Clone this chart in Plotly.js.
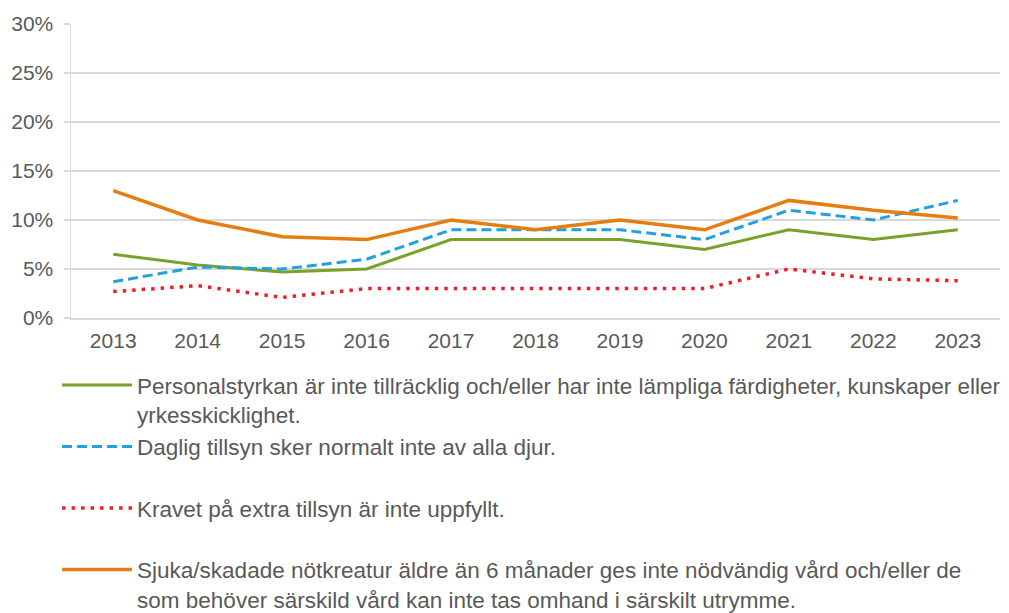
<!DOCTYPE html>
<html>
<head>
<meta charset="utf-8">
<script src="https://cdn.plot.ly/plotly-3.0.1.min.js"></script>
<style>html,body{margin:0;padding:0;background:#fff;}#chart{width:1009px;height:613px;}</style>
</head>
<body>
<div id="chart"></div>
<script>
var years = ["2013","2014","2015","2016","2017","2018","2019","2020","2021","2022","2023"];
var personalstyrkan = [6.5, 5.4, 4.7, 5.0, 8, 8, 8, 7, 9, 8, 9];
var dagligTillsyn = [3.7, 5.2, 5.0, 6.0, 9, 9, 9, 8, 11, 10, 12];
var extraTillsyn = [2.7, 3.3, 2.1, 3.0, 3, 3, 3, 3, 5, 4, 3.8];
var sjukaSkadade = [13, 10, 8.3, 8.0, 10, 9, 10, 9, 12, 11, 10.2];

var names = [
  "Personalstyrkan är inte tillräcklig och/eller har inte lämpliga färdigheter, kunskaper eller<br>yrkesskicklighet.",
  "Daglig tillsyn sker normalt inte av alla djur.<br> ",
  "Kravet på extra tillsyn är inte uppfyllt.<br> ",
  "Sjuka/skadade nötkreatur äldre än 6 månader ges inte nödvändig vård och/eller de<br>som behöver särskild vård kan inte tas omhand i särskilt utrymme."
];

var traces = [
  {x: years, y: personalstyrkan, name: names[0], legendgroup: "a", mode: "lines",
   line: {color: "#7aa12a", width: 3}},
  {x: years, y: dagligTillsyn, name: names[1], legendgroup: "b", mode: "lines",
   line: {color: "#22a2dd", width: 3, dash: "10px,5px"}},
  {x: years, y: extraTillsyn, name: names[2], legendgroup: "c", mode: "lines",
   line: {color: "#ee1f2b", width: 3.5, dash: "3.5px,6px"}},
  {x: years, y: sjukaSkadade, name: names[3], legendgroup: "d", mode: "lines",
   line: {color: "#e57d10", width: 3.5}}
];

var layout = {
  width: 1009, height: 613,
  margin: {l: 71, r: 9, t: 24, b: 295},
  paper_bgcolor: "#fff", plot_bgcolor: "#fff",
  font: {family: "Liberation Sans, Arial, sans-serif", color: "#595959", size: 21},
  showlegend: true,
  legend: {
    orientation: "v", xref: "paper", yref: "container",
    x: -0.015, xanchor: "left", y: 0.4062, yanchor: "top",
    font: {size: 22.5, color: "#595959"},
    itemwidth: 70, valign: "top", tracegroupgap: 8,
    traceorder: "normal", bgcolor: "rgba(0,0,0,0)"
  },
  xaxis: {
    type: "category", range: [-0.5, 10.5], showgrid: false, zeroline: false,
    showline: true, linecolor: "#d9d9d9", linewidth: 1.5,
    ticks: "", ticklabelstandoff: 3, tickfont: {size: 21, color: "#595959"}
  },
  yaxis: {
    range: [0, 30], dtick: 5, ticksuffix: "%",
    showgrid: true, gridcolor: "#d9d9d9", gridwidth: 1.5,
    zeroline: false, showline: true, linecolor: "#d9d9d9", linewidth: 1.5,
    ticks: "outside", ticklen: 6, tickcolor: "#d9d9d9", tickwidth: 1.5,
    ticklabelstandoff: 6,
    tickfont: {size: 21, color: "#595959"}
  }
};

Plotly.newPlot("chart", traces, layout, {displayModeBar: false, staticPlot: true});
</script>
</body>
</html>
